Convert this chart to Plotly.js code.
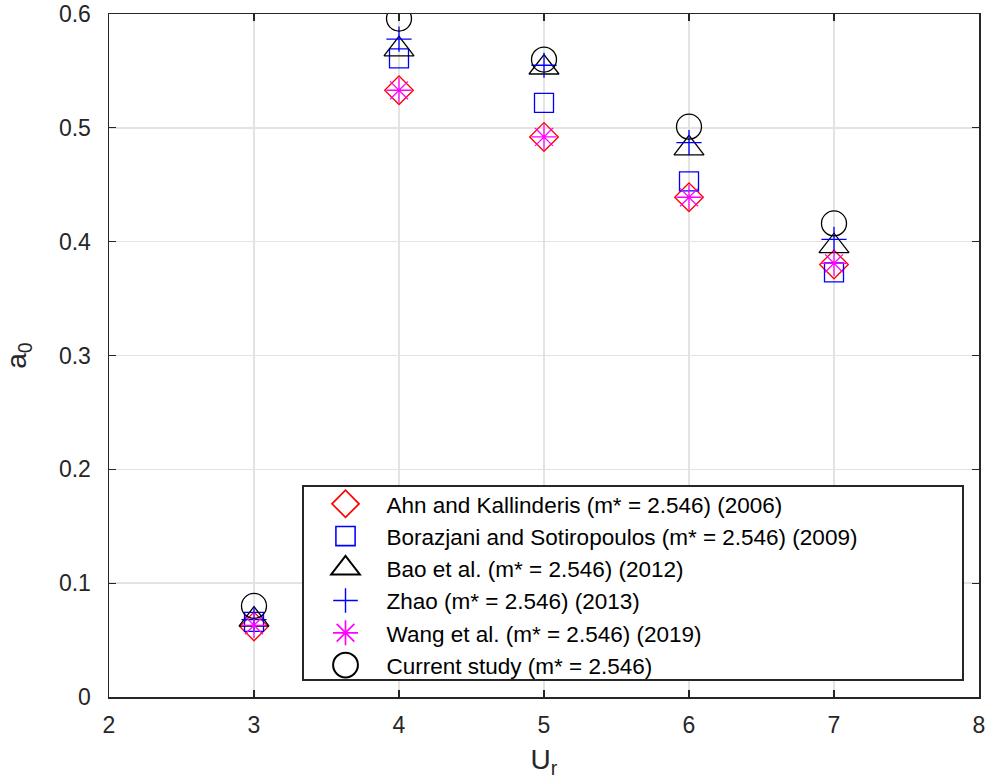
<!DOCTYPE html>
<html>
<head>
<meta charset="utf-8">
<script src="https://cdn.plot.ly/plotly-3.0.1.min.js"></script>
<style>html,body{margin:0;padding:0;background:#fff;}#chart{width:987px;height:782px;}</style>
</head>
<body>
<div id="chart"></div>
<script>
const Ur = [3, 4, 5, 6, 7];
const ahn = [0.062, 0.533, 0.492, 0.439, 0.380];
const borazjani = [0.066, 0.561, 0.522, 0.453, 0.373];
const bao = [0.068, 0.569, 0.553, 0.482, 0.396];
const zhao = [0.068, 0.578, 0.555, 0.487, 0.402];
const wang = [0.063, 0.533, 0.492, 0.439, 0.381];
const current = [0.080, 0.596, 0.560, 0.501, 0.416];

const names = [
  'Ahn and Kallinderis (m* = 2.546) (2006)',
  'Borazjani and Sotiropoulos (m* = 2.546) (2009)',
  'Bao et al. (m* = 2.546) (2012)',
  'Zhao (m* = 2.546) (2013)',
  'Wang et al. (m* = 2.546) (2019)',
  'Current study (m* = 2.546)'
];

function tr(y, name, symbol, color, size, g) {
  return {
    x: Ur, y: y, name: name, type: 'scatter', mode: 'markers', legendgroup: g,
    marker: {symbol: symbol, size: size, color: color, line: {color: color, width: 1.3}}
  };
}

const data = [
  tr(ahn, names[0], 'diamond-open', '#ff0000', 22, 'a'),
  tr(borazjani, names[1], 'square-open', '#0000ff', 19, 'b'),
  tr(bao, names[2], 'triangle-up-open', '#000000', 26, 'c'),
  tr(zhao, names[3], 'cross-thin-open', '#0000ff', 18, 'd'),
  tr(wang, names[4], 'asterisk-open', '#ff00ff', 21, 'e'),
  tr(current, names[5], 'circle-open', '#000000', 25, 'f')
];
const legendScale = [1.3, 1.2, 1.55, 1.1, 1.3, 1.55];

const axcol = '#262626';
const layout = {
  width: 987, height: 782,
  margin: {l: 109, r: 8, t: 14, b: 85},
  paper_bgcolor: '#fff', plot_bgcolor: '#fff',
  font: {family: 'Liberation Sans, Arial, sans-serif', size: 23, color: axcol},
  showlegend: true,
  xaxis: {
    range: [2, 8], dtick: 1, tick0: 2,
    showgrid: true, gridcolor: '#e3e3e3', gridwidth: 1.5,
    showline: true, linecolor: axcol, linewidth: 1.5, mirror: 'ticks',
    ticks: 'inside', ticklen: 7, tickcolor: axcol, tickwidth: 1.3,
    zeroline: false, tickfont: {size: 23}, ticklabelstandoff: 7,
    title: {text: 'U<sub>r</sub>', font: {size: 28}, standoff: 12}
  },
  yaxis: {
    range: [0, 0.6], dtick: 0.1, tick0: 0,
    showgrid: true, gridcolor: '#e3e3e3', gridwidth: 1.5,
    showline: true, linecolor: axcol, linewidth: 1.5, mirror: 'ticks',
    ticks: 'inside', ticklen: 7, tickcolor: axcol, tickwidth: 1.3,
    zeroline: false, tickfont: {size: 23}, ticklabelstandoff: 12,
    title: {text: 'a<sub>0</sub>', font: {size: 28}, standoff: 24}
  },
  legend: {
    x: 0.223, y: 0.316, xanchor: 'left', yanchor: 'top',
    bgcolor: '#fff', bordercolor: axcol, borderwidth: 1.5,
    font: {size: 22.5, color: '#000'},
    tracegroupgap: 0, itemwidth: 72
  }
};

Plotly.newPlot('chart', data, layout, {displayModeBar: false, staticPlot: true}).then(function(gd){
  document.querySelectorAll('.legend .traces').forEach(function(t, i){
    const s = legendScale[i] || 1.3;
    t.querySelectorAll('.legendpoints path.scatterpts').forEach(function(p){
      p.setAttribute('transform', (p.getAttribute('transform') || '') + ' scale(' + s + ')');
    });
  });
  // match the reference legend box extent
  const bg = document.querySelector('.legend rect.bg');
  if (bg) {
    const host = document.getElementById('chart').getBoundingClientRect();
    const bb = bg.getBoundingClientRect();
    const x0 = +bg.getAttribute('x') || 0, y0 = +bg.getAttribute('y') || 0;
    bg.setAttribute('x', x0 + (303 - (bb.left - host.left)));
    bg.setAttribute('y', y0 + (486 - (bb.top - host.top)));
    bg.setAttribute('width', 660);
    bg.setAttribute('height', 194);
  }
});
</script>
</body>
</html>
